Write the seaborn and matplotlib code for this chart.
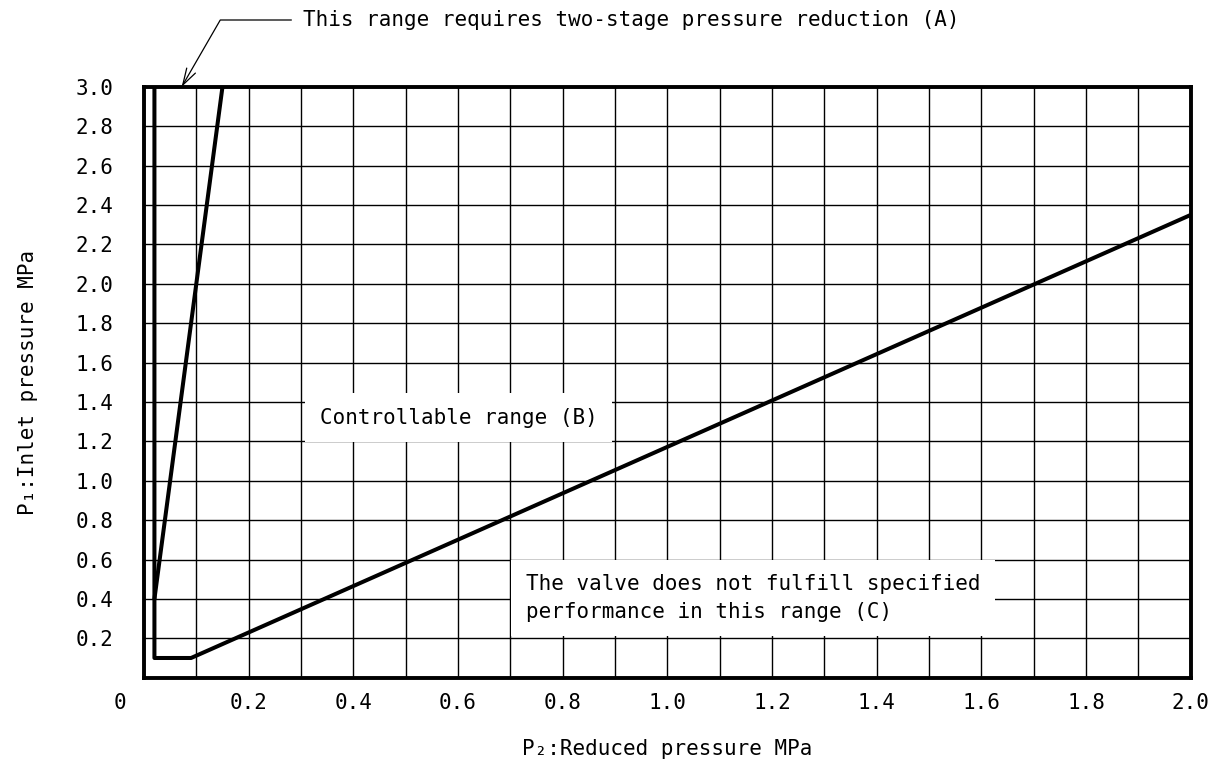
"""
Plage de fonctionnement d'un detendeur : P1 (entree) en fonction de P2 (reduite).
"""
import matplotlib
matplotlib.use("Agg")
import matplotlib.pyplot as plt
import pandas as pd
import seaborn as sns
from matplotlib.ticker import MultipleLocator

# limite basse de la plage reglable (B / C)
limit_p2 = [0.02, 0.02, 0.09, 2.0]
limit_p1 = [3.0, 0.1, 0.1, 2.35]
# limite de la detente en deux etages (A)
twostage_p2 = [0.02, 0.15]
twostage_p1 = [0.4, 3.0]

x_ticks = [0.2, 0.4, 0.6, 0.8, 1.0, 1.2, 1.4, 1.6, 1.8, 2.0]
y_ticks = [0.2, 0.4, 0.6, 0.8, 1.0, 1.2, 1.4, 1.6, 1.8, 2.0,
           2.2, 2.4, 2.6, 2.8, 3.0]

label_a = "This range requires two-stage pressure reduction (A)"
label_b = "Controllable range (B)"
label_c = "The valve does not fulfill specified\nperformance in this range (C)"

sns.set_style("white")
plt.rcParams["font.family"] = ["DejaVu Sans Mono"]
plt.rcParams["text.color"] = "black"
plt.rcParams["axes.labelcolor"] = "black"
plt.rcParams["xtick.color"] = "black"
plt.rcParams["ytick.color"] = "black"
FS = 15

fig = plt.figure(figsize=(12.2, 7.76), dpi=100)
ax = fig.add_axes([0.118, 0.1267, 0.858, 0.7613])

df_lim = pd.DataFrame({"p2": limit_p2, "p1": limit_p1})
df_two = pd.DataFrame({"p2": twostage_p2, "p1": twostage_p1})
sns.lineplot(data=df_lim, x="p2", y="p1", sort=False, estimator=None,
             color="black", lw=2.9, ax=ax, zorder=4)
sns.lineplot(data=df_two, x="p2", y="p1", sort=False, estimator=None,
             color="black", lw=2.9, ax=ax, zorder=4)

ax.set_xlim(0, 2.0)
ax.set_ylim(0, 3.0)
ax.set_xticks(x_ticks)
ax.set_xticklabels([f"{v:.1f}" for v in x_ticks], fontsize=FS)
ax.set_yticks(y_ticks)
ax.set_yticklabels([f"{v:.1f}" for v in y_ticks], fontsize=FS)
ax.xaxis.set_minor_locator(MultipleLocator(0.1))
ax.tick_params(axis="both", which="both", length=0)
ax.tick_params(axis="x", pad=11)
ax.tick_params(axis="y", pad=22)
ax.grid(True, axis="x", which="both", color="black", lw=1.0)
ax.grid(True, axis="y", which="major", color="black", lw=1.0)
ax.set_axisbelow(True)
for sp in ax.spines.values():
    sp.set_visible(True)
    sp.set_color("black")
    sp.set_linewidth(2.8)
    sp.set_zorder(5)

ax.set_xlabel("P₂:Reduced pressure MPa", fontsize=FS, labelpad=19)
ax.set_ylabel("P₁:Inlet pressure MPa", fontsize=FS, labelpad=27)

# le "0" est decale a gauche de l'origine
ax.annotate("0", xy=(0, 0), xycoords="axes fraction", xytext=(-17, -11),
            textcoords="offset points", ha="center", va="top", fontsize=FS)

box = dict(boxstyle="square,pad=0.7", facecolor="white", edgecolor="none")
ax.text(0.336, 1.32, label_b, fontsize=FS, ha="left", va="center",
        bbox=box, zorder=3)
ax.text(0.73, 0.405, label_c, fontsize=FS, ha="left", va="center",
        linespacing=1.45, bbox=box, zorder=3)

ax.annotate(label_a, xy=(0.072, 3.0), xycoords="data",
            xytext=(303 / 1220, 1 - 20 / 776), textcoords="figure fraction",
            ha="left", va="center", fontsize=FS, annotation_clip=False,
            arrowprops=dict(arrowstyle="->,head_length=1.0,head_width=0.3",
                            mutation_scale=12, color="black", lw=0.9,
                            shrinkA=6, shrinkB=0,
                            connectionstyle="angle,angleA=0,angleB=60,rad=0"))

fig.savefig("out.png", dpi=100)
